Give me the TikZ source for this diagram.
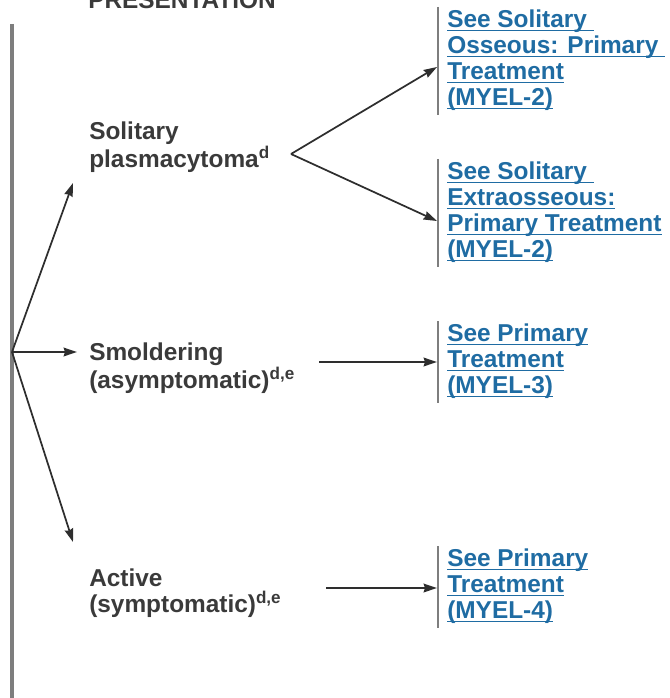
\documentclass[tikz,border=0pt]{standalone}
\usepackage{fontspec}
\setmainfont{Liberation Sans}
\usetikzlibrary{arrows.meta,calc}
\definecolor{txtc}{HTML}{3A3A3A}
\definecolor{linec}{HTML}{2E2E2E}
\definecolor{lnkc}{HTML}{1F6CA3}
\definecolor{barc}{HTML}{7E7E7E}
\newcommand{\lnk}[1]{\setbox0\hbox{#1}\rlap{\rule[-2.2pt]{\wd0}{0.9pt}}\box0}
\tikzset{
  lefttxt/.style={anchor=north west, inner sep=0pt, align=left, text=txtc,
    font=\bfseries\fontsize{18.3}{19}\selectfont},
  linktxt/.style={anchor=north west, inner sep=0pt, align=left, text=lnkc,
    font=\bfseries\fontsize{18.3}{19.5}\selectfont},
  conn/.style={draw=linec, line width=1.3pt, -{Stealth[length=10pt,width=6.5pt,inset=1pt]}},
  sidebar/.style={draw=barc, line width=1.1pt},
  mainbar/.style={draw=barc, line width=2.4pt}
}
\begin{document}
\begin{tikzpicture}[x=0.75pt,y=-0.75pt]
\useasboundingbox (0,0) rectangle (669,698);
% header, cut off at the top in the reference
\node[lefttxt, anchor=base west] (hdr) at (88,9) {PRESENTATION};
% main vertical bar
\coordinate (vtop) at (12,24);
\coordinate (vbot) at (12,698);
\draw[mainbar] (vtop) -- (vbot);
\coordinate (J) at (12,352);

% left texts
\node[lefttxt] (sol) at (89,122) {Solitary\\plasmacytoma\textsuperscript{d}};
\node[lefttxt] (smo) at (89,343) {Smoldering\\(asymptomatic)\textsuperscript{d,e}};
\node[lefttxt] (act) at (89,569) {Active\\(symptomatic)\textsuperscript{d,e}};

% right link blocks
\node[linktxt] (b1) at (447,10) {\lnk{See Solitary }\\\lnk{Osseous: Primary }\\\lnk{Treatment}\\\lnk{(MYEL-2)}};
\node[linktxt] (b2) at (447,162) {\lnk{See Solitary }\\\lnk{Extraosseous:}\\\lnk{Primary Treatment}\\\lnk{(MYEL-2)}};
\node[linktxt] (b3) at (447,324) {\lnk{See Primary}\\\lnk{Treatment}\\\lnk{(MYEL-3)}};
\node[linktxt] (b4) at (447,549) {\lnk{See Primary}\\\lnk{Treatment}\\\lnk{(MYEL-4)}};

\foreach \b in {b1,b2,b3,b4}{
  \draw[sidebar] ($(\b.north west)+(-9,-3)$) -- ($(\b.south west)+(-9,4)$);
}

% arrows from the junction
\coordinate (solin) at (73,183);
\coordinate (smoin) at (77,352);
\coordinate (actin) at (73,542);
\draw[conn] (J) -- (solin);
\draw[conn] (J) -- (smoin);
\draw[conn] (J) -- (actin);

% branch from solitary
\coordinate (V) at (291,154);
\coordinate (b1in) at (437,67);
\coordinate (b2in) at (437,221);
\draw[conn] (V) -- (b1in);
\draw[conn] (V) -- (b2in);

% smoldering / active arrows
\coordinate (smoout) at (319,362);
\coordinate (actout) at (326,588);
\draw[conn] (smoout) -- ($(smoout -| b3.west)+(-10,0)$);
\draw[conn] (actout) -- ($(actout -| b4.west)+(-10,0)$);
\end{tikzpicture}
\end{document}
